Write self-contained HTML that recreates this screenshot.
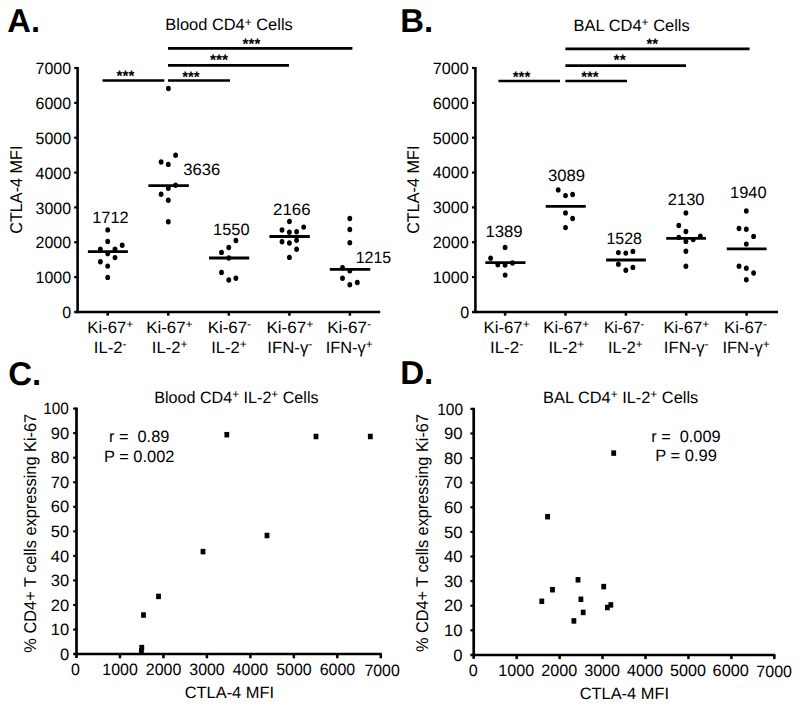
<!DOCTYPE html>
<html><head><meta charset="utf-8"><style>
html,body{margin:0;padding:0;background:#fff;}
svg{display:block;}
text{font-family:"Liberation Sans", sans-serif;fill:#000;text-rendering:geometricPrecision;}
</style></head><body>
<svg width="800" height="708" viewBox="0 0 800 708">
<rect width="800" height="708" fill="#fff"/>
<line x1="77.60" y1="67.00" x2="77.60" y2="313.20" stroke="#000" stroke-width="2.6"/>
<line x1="74.20" y1="68.00" x2="77.60" y2="68.00" stroke="#000" stroke-width="2.2"/>
<line x1="74.20" y1="102.85" x2="77.60" y2="102.85" stroke="#000" stroke-width="2.2"/>
<line x1="74.20" y1="137.70" x2="77.60" y2="137.70" stroke="#000" stroke-width="2.2"/>
<line x1="74.20" y1="172.55" x2="77.60" y2="172.55" stroke="#000" stroke-width="2.2"/>
<line x1="74.20" y1="207.40" x2="77.60" y2="207.40" stroke="#000" stroke-width="2.2"/>
<line x1="74.20" y1="242.25" x2="77.60" y2="242.25" stroke="#000" stroke-width="2.2"/>
<line x1="74.20" y1="277.10" x2="77.60" y2="277.10" stroke="#000" stroke-width="2.2"/>
<line x1="74.20" y1="312.00" x2="380.20" y2="312.00" stroke="#000" stroke-width="2.5"/>
<line x1="107.70" y1="312.00" x2="107.70" y2="315.70" stroke="#000" stroke-width="2.5"/>
<line x1="168.30" y1="312.00" x2="168.30" y2="315.70" stroke="#000" stroke-width="2.5"/>
<line x1="228.80" y1="312.00" x2="228.80" y2="315.70" stroke="#000" stroke-width="2.5"/>
<line x1="289.40" y1="312.00" x2="289.40" y2="315.70" stroke="#000" stroke-width="2.5"/>
<line x1="349.90" y1="312.00" x2="349.90" y2="315.70" stroke="#000" stroke-width="2.5"/>
<line x1="102.50" y1="80.50" x2="164.30" y2="80.50" stroke="#000" stroke-width="2.7"/>
<line x1="168.00" y1="80.50" x2="230.00" y2="80.50" stroke="#000" stroke-width="2.7"/>
<line x1="168.00" y1="65.40" x2="289.00" y2="65.40" stroke="#000" stroke-width="2.7"/>
<line x1="168.00" y1="48.40" x2="352.40" y2="48.40" stroke="#000" stroke-width="2.7"/>
<line x1="475.40" y1="67.00" x2="475.40" y2="313.20" stroke="#000" stroke-width="2.6"/>
<line x1="472.00" y1="68.00" x2="475.40" y2="68.00" stroke="#000" stroke-width="2.2"/>
<line x1="472.00" y1="102.85" x2="475.40" y2="102.85" stroke="#000" stroke-width="2.2"/>
<line x1="472.00" y1="137.70" x2="475.40" y2="137.70" stroke="#000" stroke-width="2.2"/>
<line x1="472.00" y1="172.55" x2="475.40" y2="172.55" stroke="#000" stroke-width="2.2"/>
<line x1="472.00" y1="207.40" x2="475.40" y2="207.40" stroke="#000" stroke-width="2.2"/>
<line x1="472.00" y1="242.25" x2="475.40" y2="242.25" stroke="#000" stroke-width="2.2"/>
<line x1="472.00" y1="277.10" x2="475.40" y2="277.10" stroke="#000" stroke-width="2.2"/>
<line x1="472.00" y1="312.00" x2="778.00" y2="312.00" stroke="#000" stroke-width="2.5"/>
<line x1="505.10" y1="312.00" x2="505.10" y2="315.70" stroke="#000" stroke-width="2.5"/>
<line x1="565.50" y1="312.00" x2="565.50" y2="315.70" stroke="#000" stroke-width="2.5"/>
<line x1="625.90" y1="312.00" x2="625.90" y2="315.70" stroke="#000" stroke-width="2.5"/>
<line x1="686.20" y1="312.00" x2="686.20" y2="315.70" stroke="#000" stroke-width="2.5"/>
<line x1="746.60" y1="312.00" x2="746.60" y2="315.70" stroke="#000" stroke-width="2.5"/>
<line x1="498.40" y1="81.00" x2="560.00" y2="81.00" stroke="#000" stroke-width="2.7"/>
<line x1="565.40" y1="81.00" x2="627.00" y2="81.00" stroke="#000" stroke-width="2.7"/>
<line x1="565.40" y1="65.60" x2="686.00" y2="65.60" stroke="#000" stroke-width="2.7"/>
<line x1="565.40" y1="48.80" x2="749.60" y2="48.80" stroke="#000" stroke-width="2.7"/>
<line x1="76.50" y1="407.50" x2="76.50" y2="658.00" stroke="#000" stroke-width="2.7"/>
<line x1="73.20" y1="408.60" x2="76.50" y2="408.60" stroke="#000" stroke-width="2.2"/>
<line x1="73.20" y1="433.15" x2="76.50" y2="433.15" stroke="#000" stroke-width="2.2"/>
<line x1="73.20" y1="457.70" x2="76.50" y2="457.70" stroke="#000" stroke-width="2.2"/>
<line x1="73.20" y1="482.25" x2="76.50" y2="482.25" stroke="#000" stroke-width="2.2"/>
<line x1="73.20" y1="506.80" x2="76.50" y2="506.80" stroke="#000" stroke-width="2.2"/>
<line x1="73.20" y1="531.35" x2="76.50" y2="531.35" stroke="#000" stroke-width="2.2"/>
<line x1="73.20" y1="555.90" x2="76.50" y2="555.90" stroke="#000" stroke-width="2.2"/>
<line x1="73.20" y1="580.45" x2="76.50" y2="580.45" stroke="#000" stroke-width="2.2"/>
<line x1="73.20" y1="605.00" x2="76.50" y2="605.00" stroke="#000" stroke-width="2.2"/>
<line x1="73.20" y1="629.55" x2="76.50" y2="629.55" stroke="#000" stroke-width="2.2"/>
<line x1="73.20" y1="654.10" x2="381.79" y2="654.10" stroke="#000" stroke-width="2.5"/>
<line x1="119.97" y1="654.10" x2="119.97" y2="658.30" stroke="#000" stroke-width="2.5"/>
<line x1="163.44" y1="654.10" x2="163.44" y2="658.30" stroke="#000" stroke-width="2.5"/>
<line x1="206.91" y1="654.10" x2="206.91" y2="658.30" stroke="#000" stroke-width="2.5"/>
<line x1="250.38" y1="654.10" x2="250.38" y2="658.30" stroke="#000" stroke-width="2.5"/>
<line x1="293.85" y1="654.10" x2="293.85" y2="658.30" stroke="#000" stroke-width="2.5"/>
<line x1="337.32" y1="654.10" x2="337.32" y2="658.30" stroke="#000" stroke-width="2.5"/>
<line x1="380.79" y1="654.10" x2="380.79" y2="658.30" stroke="#000" stroke-width="2.5"/>
<rect x="224.40" y="431.95" width="4.80" height="5.50" fill="#000"/>
<rect x="313.60" y="433.75" width="4.80" height="5.50" fill="#000"/>
<rect x="367.90" y="433.75" width="4.80" height="5.50" fill="#000"/>
<rect x="264.60" y="532.75" width="4.80" height="5.50" fill="#000"/>
<rect x="200.60" y="548.85" width="4.80" height="5.50" fill="#000"/>
<rect x="156.10" y="593.65" width="4.80" height="5.50" fill="#000"/>
<rect x="141.10" y="612.25" width="4.80" height="5.50" fill="#000"/>
<rect x="139.40" y="644.85" width="4.80" height="5.50" fill="#000"/>
<rect x="139.00" y="648.25" width="4.80" height="5.50" fill="#000"/>
<line x1="473.70" y1="407.80" x2="473.70" y2="658.80" stroke="#000" stroke-width="2.7"/>
<line x1="470.40" y1="408.90" x2="473.70" y2="408.90" stroke="#000" stroke-width="2.2"/>
<line x1="470.40" y1="433.50" x2="473.70" y2="433.50" stroke="#000" stroke-width="2.2"/>
<line x1="470.40" y1="458.10" x2="473.70" y2="458.10" stroke="#000" stroke-width="2.2"/>
<line x1="470.40" y1="482.70" x2="473.70" y2="482.70" stroke="#000" stroke-width="2.2"/>
<line x1="470.40" y1="507.30" x2="473.70" y2="507.30" stroke="#000" stroke-width="2.2"/>
<line x1="470.40" y1="531.90" x2="473.70" y2="531.90" stroke="#000" stroke-width="2.2"/>
<line x1="470.40" y1="556.50" x2="473.70" y2="556.50" stroke="#000" stroke-width="2.2"/>
<line x1="470.40" y1="581.10" x2="473.70" y2="581.10" stroke="#000" stroke-width="2.2"/>
<line x1="470.40" y1="605.70" x2="473.70" y2="605.70" stroke="#000" stroke-width="2.2"/>
<line x1="470.40" y1="630.30" x2="473.70" y2="630.30" stroke="#000" stroke-width="2.2"/>
<line x1="470.40" y1="654.90" x2="775.35" y2="654.90" stroke="#000" stroke-width="2.5"/>
<line x1="516.65" y1="654.90" x2="516.65" y2="659.10" stroke="#000" stroke-width="2.5"/>
<line x1="559.60" y1="654.90" x2="559.60" y2="659.10" stroke="#000" stroke-width="2.5"/>
<line x1="602.55" y1="654.90" x2="602.55" y2="659.10" stroke="#000" stroke-width="2.5"/>
<line x1="645.50" y1="654.90" x2="645.50" y2="659.10" stroke="#000" stroke-width="2.5"/>
<line x1="688.45" y1="654.90" x2="688.45" y2="659.10" stroke="#000" stroke-width="2.5"/>
<line x1="731.40" y1="654.90" x2="731.40" y2="659.10" stroke="#000" stroke-width="2.5"/>
<line x1="774.35" y1="654.90" x2="774.35" y2="659.10" stroke="#000" stroke-width="2.5"/>
<rect x="611.30" y="450.35" width="4.80" height="5.50" fill="#000"/>
<rect x="545.20" y="513.95" width="4.80" height="5.50" fill="#000"/>
<rect x="575.60" y="577.05" width="4.80" height="5.50" fill="#000"/>
<rect x="550.10" y="586.95" width="4.80" height="5.50" fill="#000"/>
<rect x="601.30" y="583.85" width="4.80" height="5.50" fill="#000"/>
<rect x="539.40" y="598.55" width="4.80" height="5.50" fill="#000"/>
<rect x="578.50" y="596.55" width="4.80" height="5.50" fill="#000"/>
<rect x="608.40" y="602.15" width="4.80" height="5.50" fill="#000"/>
<rect x="605.00" y="604.75" width="4.80" height="5.50" fill="#000"/>
<rect x="580.80" y="609.65" width="4.80" height="5.50" fill="#000"/>
<rect x="571.50" y="618.15" width="4.80" height="5.50" fill="#000"/>
<ellipse cx="107.70" cy="229.90" rx="2.4" ry="2.7" fill="#000"/>
<ellipse cx="107.70" cy="241.40" rx="2.4" ry="2.7" fill="#000"/>
<ellipse cx="122.20" cy="245.30" rx="2.4" ry="2.7" fill="#000"/>
<ellipse cx="100.40" cy="249.30" rx="2.4" ry="2.7" fill="#000"/>
<ellipse cx="115.00" cy="249.30" rx="2.4" ry="2.7" fill="#000"/>
<ellipse cx="107.70" cy="253.70" rx="2.4" ry="2.7" fill="#000"/>
<ellipse cx="115.00" cy="257.60" rx="2.4" ry="2.7" fill="#000"/>
<ellipse cx="100.40" cy="261.80" rx="2.4" ry="2.7" fill="#000"/>
<ellipse cx="107.70" cy="266.10" rx="2.4" ry="2.7" fill="#000"/>
<ellipse cx="107.70" cy="277.40" rx="2.4" ry="2.7" fill="#000"/>
<ellipse cx="168.40" cy="88.50" rx="2.4" ry="2.7" fill="#000"/>
<ellipse cx="175.60" cy="155.30" rx="2.4" ry="2.7" fill="#000"/>
<ellipse cx="161.10" cy="162.00" rx="2.4" ry="2.7" fill="#000"/>
<ellipse cx="168.30" cy="164.40" rx="2.4" ry="2.7" fill="#000"/>
<ellipse cx="175.60" cy="185.30" rx="2.4" ry="2.7" fill="#000"/>
<ellipse cx="168.30" cy="188.20" rx="2.4" ry="2.7" fill="#000"/>
<ellipse cx="161.10" cy="194.20" rx="2.4" ry="2.7" fill="#000"/>
<ellipse cx="168.30" cy="200.20" rx="2.4" ry="2.7" fill="#000"/>
<ellipse cx="168.30" cy="221.80" rx="2.4" ry="2.7" fill="#000"/>
<ellipse cx="235.90" cy="240.50" rx="2.4" ry="2.7" fill="#000"/>
<ellipse cx="228.80" cy="247.50" rx="2.4" ry="2.7" fill="#000"/>
<ellipse cx="221.50" cy="252.40" rx="2.4" ry="2.7" fill="#000"/>
<ellipse cx="228.80" cy="258.00" rx="2.4" ry="2.7" fill="#000"/>
<ellipse cx="221.50" cy="272.40" rx="2.4" ry="2.7" fill="#000"/>
<ellipse cx="228.80" cy="280.00" rx="2.4" ry="2.7" fill="#000"/>
<ellipse cx="235.90" cy="278.30" rx="2.4" ry="2.7" fill="#000"/>
<ellipse cx="289.40" cy="221.50" rx="2.4" ry="2.7" fill="#000"/>
<ellipse cx="303.70" cy="227.10" rx="2.4" ry="2.7" fill="#000"/>
<ellipse cx="282.00" cy="230.00" rx="2.4" ry="2.7" fill="#000"/>
<ellipse cx="289.40" cy="232.20" rx="2.4" ry="2.7" fill="#000"/>
<ellipse cx="296.60" cy="231.70" rx="2.4" ry="2.7" fill="#000"/>
<ellipse cx="282.00" cy="241.80" rx="2.4" ry="2.7" fill="#000"/>
<ellipse cx="289.40" cy="243.00" rx="2.4" ry="2.7" fill="#000"/>
<ellipse cx="296.60" cy="240.30" rx="2.4" ry="2.7" fill="#000"/>
<ellipse cx="296.60" cy="249.30" rx="2.4" ry="2.7" fill="#000"/>
<ellipse cx="289.40" cy="257.40" rx="2.4" ry="2.7" fill="#000"/>
<ellipse cx="349.80" cy="218.50" rx="2.4" ry="2.7" fill="#000"/>
<ellipse cx="349.80" cy="229.50" rx="2.4" ry="2.7" fill="#000"/>
<ellipse cx="349.80" cy="242.70" rx="2.4" ry="2.7" fill="#000"/>
<ellipse cx="342.50" cy="267.80" rx="2.4" ry="2.7" fill="#000"/>
<ellipse cx="349.80" cy="270.70" rx="2.4" ry="2.7" fill="#000"/>
<ellipse cx="342.50" cy="278.30" rx="2.4" ry="2.7" fill="#000"/>
<ellipse cx="349.80" cy="284.70" rx="2.4" ry="2.7" fill="#000"/>
<ellipse cx="357.30" cy="282.50" rx="2.4" ry="2.7" fill="#000"/>
<ellipse cx="505.10" cy="247.40" rx="2.4" ry="2.7" fill="#000"/>
<ellipse cx="490.60" cy="258.20" rx="2.4" ry="2.7" fill="#000"/>
<ellipse cx="497.80" cy="264.70" rx="2.4" ry="2.7" fill="#000"/>
<ellipse cx="505.10" cy="265.10" rx="2.4" ry="2.7" fill="#000"/>
<ellipse cx="512.50" cy="263.00" rx="2.4" ry="2.7" fill="#000"/>
<ellipse cx="505.10" cy="275.10" rx="2.4" ry="2.7" fill="#000"/>
<ellipse cx="558.20" cy="189.90" rx="2.4" ry="2.7" fill="#000"/>
<ellipse cx="565.50" cy="195.60" rx="2.4" ry="2.7" fill="#000"/>
<ellipse cx="572.60" cy="194.50" rx="2.4" ry="2.7" fill="#000"/>
<ellipse cx="565.50" cy="212.90" rx="2.4" ry="2.7" fill="#000"/>
<ellipse cx="572.60" cy="218.50" rx="2.4" ry="2.7" fill="#000"/>
<ellipse cx="565.50" cy="227.60" rx="2.4" ry="2.7" fill="#000"/>
<ellipse cx="618.40" cy="252.60" rx="2.4" ry="2.7" fill="#000"/>
<ellipse cx="625.80" cy="253.10" rx="2.4" ry="2.7" fill="#000"/>
<ellipse cx="632.90" cy="251.40" rx="2.4" ry="2.7" fill="#000"/>
<ellipse cx="618.40" cy="264.30" rx="2.4" ry="2.7" fill="#000"/>
<ellipse cx="625.80" cy="270.20" rx="2.4" ry="2.7" fill="#000"/>
<ellipse cx="632.90" cy="267.40" rx="2.4" ry="2.7" fill="#000"/>
<ellipse cx="685.90" cy="212.90" rx="2.4" ry="2.7" fill="#000"/>
<ellipse cx="678.80" cy="225.50" rx="2.4" ry="2.7" fill="#000"/>
<ellipse cx="685.90" cy="231.50" rx="2.4" ry="2.7" fill="#000"/>
<ellipse cx="678.80" cy="237.40" rx="2.4" ry="2.7" fill="#000"/>
<ellipse cx="685.90" cy="241.40" rx="2.4" ry="2.7" fill="#000"/>
<ellipse cx="693.20" cy="239.60" rx="2.4" ry="2.7" fill="#000"/>
<ellipse cx="700.40" cy="236.10" rx="2.4" ry="2.7" fill="#000"/>
<ellipse cx="685.90" cy="251.20" rx="2.4" ry="2.7" fill="#000"/>
<ellipse cx="685.90" cy="266.30" rx="2.4" ry="2.7" fill="#000"/>
<ellipse cx="746.30" cy="211.00" rx="2.4" ry="2.7" fill="#000"/>
<ellipse cx="739.00" cy="228.50" rx="2.4" ry="2.7" fill="#000"/>
<ellipse cx="746.30" cy="229.30" rx="2.4" ry="2.7" fill="#000"/>
<ellipse cx="753.60" cy="236.40" rx="2.4" ry="2.7" fill="#000"/>
<ellipse cx="746.30" cy="244.10" rx="2.4" ry="2.7" fill="#000"/>
<ellipse cx="739.00" cy="266.30" rx="2.4" ry="2.7" fill="#000"/>
<ellipse cx="746.30" cy="268.30" rx="2.4" ry="2.7" fill="#000"/>
<ellipse cx="753.60" cy="273.00" rx="2.4" ry="2.7" fill="#000"/>
<ellipse cx="746.30" cy="279.80" rx="2.4" ry="2.7" fill="#000"/>
<line x1="87.90" y1="251.70" x2="127.90" y2="251.70" stroke="#000" stroke-width="2.8"/>
<line x1="148.40" y1="185.60" x2="188.80" y2="185.60" stroke="#000" stroke-width="2.8"/>
<line x1="209.00" y1="258.00" x2="249.20" y2="258.00" stroke="#000" stroke-width="2.8"/>
<line x1="269.40" y1="236.50" x2="309.80" y2="236.50" stroke="#000" stroke-width="2.8"/>
<line x1="329.80" y1="269.30" x2="370.30" y2="269.30" stroke="#000" stroke-width="2.8"/>
<line x1="485.30" y1="262.60" x2="525.50" y2="262.60" stroke="#000" stroke-width="2.8"/>
<line x1="545.70" y1="206.30" x2="585.80" y2="206.30" stroke="#000" stroke-width="2.8"/>
<line x1="606.10" y1="260.00" x2="645.90" y2="260.00" stroke="#000" stroke-width="2.8"/>
<line x1="666.20" y1="238.40" x2="706.00" y2="238.40" stroke="#000" stroke-width="2.8"/>
<line x1="726.80" y1="248.80" x2="766.60" y2="248.80" stroke="#000" stroke-width="2.8"/>
<text id="Ayt7000" transform="translate(71.01,74.19) scale(1.0497,1.0800)" font-size="15.20" text-anchor="end">7000</text>
<text id="Ayt6000" transform="translate(71.01,109.04) scale(1.0497,1.0800)" font-size="15.20" text-anchor="end">6000</text>
<text id="Ayt5000" transform="translate(71.01,143.89) scale(1.0497,1.0800)" font-size="15.20" text-anchor="end">5000</text>
<text id="Ayt4000" transform="translate(71.01,178.74) scale(1.0497,1.0800)" font-size="15.20" text-anchor="end">4000</text>
<text id="Ayt3000" transform="translate(71.01,213.59) scale(1.0497,1.0800)" font-size="15.20" text-anchor="end">3000</text>
<text id="Ayt2000" transform="translate(71.01,248.44) scale(1.0497,1.0800)" font-size="15.20" text-anchor="end">2000</text>
<text id="Ayt1000" transform="translate(71.01,283.29) scale(1.0497,1.0800)" font-size="15.20" text-anchor="end">1000</text>
<text id="Ayt0" transform="translate(71.13,317.79) scale(1.0568,1.0800)" font-size="15.20" text-anchor="end">0</text>
<text id="Aylab" transform="translate(21.53,189.64) rotate(-90) scale(1.0679,1.1200)" font-size="15.20" text-anchor="middle">CTLA-4 MFI</text>
<text id="Axl0a" transform="translate(110.29,333.00) scale(1.0984,1.0800)" font-size="15.20" text-anchor="middle">Ki-67<tspan font-size="11" dy="-4.5">+</tspan></text>
<text id="Axl0b" transform="translate(110.19,352.50) scale(1.0942,1.0800)" font-size="15.20" text-anchor="middle">IL-2<tspan font-size="11" dy="-4.5">-</tspan></text>
<text id="Axl1a" transform="translate(169.49,333.00) scale(1.1078,1.0800)" font-size="15.20" text-anchor="middle">Ki-67<tspan font-size="11" dy="-4.5">+</tspan></text>
<text id="Axl1b" transform="translate(169.64,352.50) scale(1.0921,1.0800)" font-size="15.20" text-anchor="middle">IL-2<tspan font-size="11" dy="-4.5">+</tspan></text>
<text id="Axl2a" transform="translate(229.42,333.00) scale(1.1141,1.0800)" font-size="15.20" text-anchor="middle">Ki-67<tspan font-size="11" dy="-4.5">-</tspan></text>
<text id="Axl2b" transform="translate(228.97,352.50) scale(1.0901,1.0800)" font-size="15.20" text-anchor="middle">IL-2<tspan font-size="11" dy="-4.5">+</tspan></text>
<text id="Axl3a" transform="translate(289.98,333.00) scale(1.1253,1.0800)" font-size="15.20" text-anchor="middle">Ki-67<tspan font-size="11" dy="-4.5">+</tspan></text>
<text id="Axl3b" transform="translate(289.83,352.50) scale(1.1031,1.0800)" font-size="15.20" text-anchor="middle">IFN-γ<tspan font-size="11" dy="-4.5">-</tspan></text>
<text id="Axl4a" transform="translate(349.13,333.00) scale(1.1185,1.0800)" font-size="15.20" text-anchor="middle">Ki-67<tspan font-size="11" dy="-4.5">-</tspan></text>
<text id="Axl4b" transform="translate(349.18,352.50) scale(1.0754,1.0800)" font-size="15.20" text-anchor="middle">IFN-γ<tspan font-size="11" dy="-4.5">+</tspan></text>
<text id="Av0" transform="translate(92.19,223.39) scale(1.0773,1.0800)" font-size="15.20">1712</text>
<text id="Av1" transform="translate(183.22,174.64) scale(1.0955,1.0800)" font-size="15.20">3636</text>
<text id="Av2" transform="translate(213.09,234.91) scale(1.0792,1.0800)" font-size="15.20">1550</text>
<text id="Av3" transform="translate(273.08,215.42) scale(1.1069,1.0800)" font-size="15.20">2166</text>
<text id="Av4" transform="translate(355.67,263.23) scale(1.0528,1.0800)" font-size="15.20">1215</text>
<text id="Ast0" transform="translate(125.41,81.38) scale(1.0032,1.0000)" font-size="15.20" text-anchor="middle" font-weight="bold">***</text>
<text id="Ast1" transform="translate(190.90,81.78) scale(0.9852,1.0000)" font-size="15.20" text-anchor="middle" font-weight="bold">***</text>
<text id="Ast2" transform="translate(219.02,64.87) scale(1.0264,1.0000)" font-size="15.20" text-anchor="middle" font-weight="bold">***</text>
<text id="Ast3" transform="translate(251.44,49.07) scale(0.9962,1.0000)" font-size="15.20" text-anchor="middle" font-weight="bold">***</text>
<text id="Byt7000" transform="translate(468.62,73.82) scale(1.0631,1.0800)" font-size="15.20" text-anchor="end">7000</text>
<text id="Byt6000" transform="translate(468.62,108.67) scale(1.0631,1.0800)" font-size="15.20" text-anchor="end">6000</text>
<text id="Byt5000" transform="translate(468.62,143.52) scale(1.0631,1.0800)" font-size="15.20" text-anchor="end">5000</text>
<text id="Byt4000" transform="translate(468.62,178.37) scale(1.0631,1.0800)" font-size="15.20" text-anchor="end">4000</text>
<text id="Byt3000" transform="translate(468.62,213.22) scale(1.0631,1.0800)" font-size="15.20" text-anchor="end">3000</text>
<text id="Byt2000" transform="translate(468.62,248.07) scale(1.0631,1.0800)" font-size="15.20" text-anchor="end">2000</text>
<text id="Byt1000" transform="translate(468.62,282.92) scale(1.0631,1.0800)" font-size="15.20" text-anchor="end">1000</text>
<text id="Byt0" transform="translate(469.10,317.55) scale(1.0600,1.0800)" font-size="15.20" text-anchor="end">0</text>
<text id="Bylab" transform="translate(418.81,189.69) rotate(-90) scale(1.0687,1.1200)" font-size="15.20" text-anchor="middle">CTLA-4 MFI</text>
<text id="Bxl0a" transform="translate(506.66,333.00) scale(1.1015,1.0800)" font-size="15.20" text-anchor="middle">Ki-67<tspan font-size="11" dy="-4.5">+</tspan></text>
<text id="Bxl0b" transform="translate(506.62,352.50) scale(1.1144,1.0800)" font-size="15.20" text-anchor="middle">IL-2<tspan font-size="11" dy="-4.5">-</tspan></text>
<text id="Bxl1a" transform="translate(566.36,333.00) scale(1.0987,1.0800)" font-size="15.20" text-anchor="middle">Ki-67<tspan font-size="11" dy="-4.5">+</tspan></text>
<text id="Bxl1b" transform="translate(566.34,352.50) scale(1.1014,1.0800)" font-size="15.20" text-anchor="middle">IL-2<tspan font-size="11" dy="-4.5">+</tspan></text>
<text id="Bxl2a" transform="translate(624.10,333.00) scale(1.0338,1.0800)" font-size="15.20" text-anchor="middle">Ki-67<tspan font-size="11" dy="-4.5">-</tspan></text>
<text id="Bxl2b" transform="translate(625.23,352.50) scale(1.0592,1.0800)" font-size="15.20" text-anchor="middle">IL-2<tspan font-size="11" dy="-4.5">+</tspan></text>
<text id="Bxl3a" transform="translate(686.41,333.00) scale(1.0951,1.0800)" font-size="15.20" text-anchor="middle">Ki-67<tspan font-size="11" dy="-4.5">+</tspan></text>
<text id="Bxl3b" transform="translate(686.24,352.50) scale(1.0973,1.0800)" font-size="15.20" text-anchor="middle">IFN-γ<tspan font-size="11" dy="-4.5">-</tspan></text>
<text id="Bxl4a" transform="translate(745.54,333.00) scale(1.0983,1.0800)" font-size="15.20" text-anchor="middle">Ki-67<tspan font-size="11" dy="-4.5">-</tspan></text>
<text id="Bxl4b" transform="translate(746.14,352.50) scale(1.0893,1.0800)" font-size="15.20" text-anchor="middle">IFN-γ<tspan font-size="11" dy="-4.5">+</tspan></text>
<text id="Bv0" transform="translate(485.38,237.15) scale(1.1026,1.0800)" font-size="15.20">1389</text>
<text id="Bv1" transform="translate(547.96,180.91) scale(1.1002,1.0800)" font-size="15.20">3089</text>
<text id="Bv2" transform="translate(606.38,243.85) scale(1.0506,1.0800)" font-size="15.20">1528</text>
<text id="Bv3" transform="translate(667.79,205.12) scale(1.0857,1.0800)" font-size="15.20">2130</text>
<text id="Bv4" transform="translate(730.09,197.81) scale(1.0792,1.0800)" font-size="15.20">1940</text>
<text id="Bst0" transform="translate(521.46,81.93) scale(0.9940,1.0000)" font-size="15.20" text-anchor="middle" font-weight="bold">***</text>
<text id="Bst1" transform="translate(589.82,81.90) scale(0.9783,1.0000)" font-size="15.20" text-anchor="middle" font-weight="bold">***</text>
<text id="Bst2" transform="translate(619.64,64.54) scale(1.0211,1.0000)" font-size="15.20" text-anchor="middle" font-weight="bold">**</text>
<text id="Bst3" transform="translate(652.29,49.28) scale(0.9934,1.0000)" font-size="15.20" text-anchor="middle" font-weight="bold">**</text>
<text id="Atitle" transform="translate(229.04,30.49) scale(1.0811,1.0800)" font-size="15.20" text-anchor="middle">Blood CD4<tspan font-size="11" dy="-4.5">+</tspan><tspan dy="4.5"> </tspan>Cells</text>
<text id="Btitle" transform="translate(631.66,30.90) scale(1.0843,1.0800)" font-size="15.20" text-anchor="middle">BAL CD4<tspan font-size="11" dy="-4.5">+</tspan><tspan dy="4.5"> </tspan>Cells</text>
<text id="Alet" transform="translate(7.33,31.79) scale(0.9901,1.0000)" font-size="33.00" font-weight="bold">A.</text>
<text id="Blet" transform="translate(400.28,31.79) scale(0.9985,1.0000)" font-size="33.00" font-weight="bold">B.</text>
<text id="Cyt100" transform="translate(68.86,414.12) scale(1.0143,1.0800)" font-size="15.20" text-anchor="end">100</text>
<text id="Cyt90" transform="translate(69.10,438.75) scale(1.0867,1.0800)" font-size="15.20" text-anchor="end">90</text>
<text id="Cyt80" transform="translate(69.10,463.30) scale(1.0867,1.0800)" font-size="15.20" text-anchor="end">80</text>
<text id="Cyt70" transform="translate(69.10,487.85) scale(1.0867,1.0800)" font-size="15.20" text-anchor="end">70</text>
<text id="Cyt60" transform="translate(69.10,512.40) scale(1.0867,1.0800)" font-size="15.20" text-anchor="end">60</text>
<text id="Cyt50" transform="translate(69.10,536.95) scale(1.0867,1.0800)" font-size="15.20" text-anchor="end">50</text>
<text id="Cyt40" transform="translate(69.10,561.50) scale(1.0867,1.0800)" font-size="15.20" text-anchor="end">40</text>
<text id="Cyt30" transform="translate(69.10,586.05) scale(1.0867,1.0800)" font-size="15.20" text-anchor="end">30</text>
<text id="Cyt20" transform="translate(69.10,610.60) scale(1.0867,1.0800)" font-size="15.20" text-anchor="end">20</text>
<text id="Cyt10" transform="translate(69.10,635.15) scale(1.0867,1.0800)" font-size="15.20" text-anchor="end">10</text>
<text id="Cyt0" transform="translate(69.10,659.70) scale(1.0867,1.0800)" font-size="15.20" text-anchor="end">0</text>
<text id="Cxt0" transform="translate(75.40,675.23) scale(1.0539,1.0800)" font-size="15.20" text-anchor="middle">0</text>
<text id="Cxt1" transform="translate(120.06,675.38) scale(1.0502,1.0800)" font-size="15.20" text-anchor="middle">1000</text>
<text id="Cxt2" transform="translate(163.53,675.38) scale(1.0502,1.0800)" font-size="15.20" text-anchor="middle">2000</text>
<text id="Cxt3" transform="translate(207.00,675.38) scale(1.0502,1.0800)" font-size="15.20" text-anchor="middle">3000</text>
<text id="Cxt4" transform="translate(250.47,675.38) scale(1.0502,1.0800)" font-size="15.20" text-anchor="middle">4000</text>
<text id="Cxt5" transform="translate(293.94,675.38) scale(1.0502,1.0800)" font-size="15.20" text-anchor="middle">5000</text>
<text id="Cxt6" transform="translate(337.41,675.38) scale(1.0502,1.0800)" font-size="15.20" text-anchor="middle">6000</text>
<text id="Cxt7" transform="translate(382.08,675.52) scale(1.0465,1.0800)" font-size="15.20" text-anchor="middle">7000</text>
<text id="Cxlab" transform="translate(229.37,698.18) scale(1.0801,1.0800)" font-size="15.20" text-anchor="middle">CTLA-4 MFI</text>
<text id="Cylab" transform="translate(36.22,533.22) rotate(-90) scale(1.0765,1.1200)" font-size="15.20" text-anchor="middle">% CD4+ T cells expressing Ki-67</text>
<text id="Ctitle" transform="translate(236.39,402.76) scale(1.0621,1.0800)" font-size="15.20" text-anchor="middle">Blood CD4<tspan font-size="11" dy="-4.5">+</tspan><tspan dy="4.5"> </tspan>IL-2<tspan font-size="11" dy="-4.5">+</tspan><tspan dy="4.5"> </tspan>Cells</text>
<text id="Cr" transform="translate(108.93,442.43) scale(1.0753,1.0800)" font-size="15.20" xml:space="preserve">r =  0.89</text>
<text id="Cp" transform="translate(104.01,461.71) scale(1.0805,1.0800)" font-size="15.20" xml:space="preserve">P = 0.002</text>
<text id="Dyt100" transform="translate(463.11,415.21) scale(1.0204,1.0800)" font-size="15.20" text-anchor="end">100</text>
<text id="Dyt90" transform="translate(462.62,439.10) scale(1.0997,1.0800)" font-size="15.20" text-anchor="end">90</text>
<text id="Dyt80" transform="translate(462.62,463.70) scale(1.0997,1.0800)" font-size="15.20" text-anchor="end">80</text>
<text id="Dyt70" transform="translate(462.62,488.30) scale(1.0997,1.0800)" font-size="15.20" text-anchor="end">70</text>
<text id="Dyt60" transform="translate(462.62,512.90) scale(1.0997,1.0800)" font-size="15.20" text-anchor="end">60</text>
<text id="Dyt50" transform="translate(462.62,537.50) scale(1.0997,1.0800)" font-size="15.20" text-anchor="end">50</text>
<text id="Dyt40" transform="translate(462.62,562.10) scale(1.0997,1.0800)" font-size="15.20" text-anchor="end">40</text>
<text id="Dyt30" transform="translate(462.62,586.70) scale(1.0997,1.0800)" font-size="15.20" text-anchor="end">30</text>
<text id="Dyt20" transform="translate(462.62,611.30) scale(1.0997,1.0800)" font-size="15.20" text-anchor="end">20</text>
<text id="Dyt10" transform="translate(462.62,635.90) scale(1.0997,1.0800)" font-size="15.20" text-anchor="end">10</text>
<text id="Dyt0" transform="translate(462.62,660.50) scale(1.0997,1.0800)" font-size="15.20" text-anchor="end">0</text>
<text id="Dxt0" transform="translate(473.26,676.08) scale(1.0635,1.0800)" font-size="15.20" text-anchor="middle">0</text>
<text id="Dxt1" transform="translate(516.21,676.08) scale(1.0635,1.0800)" font-size="15.20" text-anchor="middle">1000</text>
<text id="Dxt2" transform="translate(559.16,676.08) scale(1.0635,1.0800)" font-size="15.20" text-anchor="middle">2000</text>
<text id="Dxt3" transform="translate(602.11,676.08) scale(1.0635,1.0800)" font-size="15.20" text-anchor="middle">3000</text>
<text id="Dxt4" transform="translate(645.06,676.08) scale(1.0635,1.0800)" font-size="15.20" text-anchor="middle">4000</text>
<text id="Dxt5" transform="translate(688.01,676.08) scale(1.0635,1.0800)" font-size="15.20" text-anchor="middle">5000</text>
<text id="Dxt6" transform="translate(730.70,675.60) scale(1.0727,1.0800)" font-size="15.20" text-anchor="middle">6000</text>
<text id="Dxt7" transform="translate(774.17,676.57) scale(1.0542,1.0800)" font-size="15.20" text-anchor="middle">7000</text>
<text id="Dxlab" transform="translate(624.34,698.65) scale(1.0805,1.0800)" font-size="15.20" text-anchor="middle">CTLA-4 MFI</text>
<text id="Dylab" transform="translate(427.72,533.05) rotate(-90) scale(1.0729,1.1200)" font-size="15.20" text-anchor="middle">% CD4+ T cells expressing Ki-67</text>
<text id="Dtitle" transform="translate(620.65,402.86) scale(1.0768,1.0800)" font-size="15.20" text-anchor="middle">BAL CD4<tspan font-size="11" dy="-4.5">+</tspan><tspan dy="4.5"> </tspan>IL-2<tspan font-size="11" dy="-4.5">+</tspan><tspan dy="4.5"> </tspan>Cells</text>
<text id="Dr" transform="translate(651.16,442.47) scale(1.0749,1.0800)" font-size="15.20" xml:space="preserve">r =  0.009</text>
<text id="Dp" transform="translate(655.18,461.07) scale(1.0868,1.0800)" font-size="15.20" xml:space="preserve">P = 0.99</text>
<text id="Clet" transform="translate(8.16,385.05) scale(0.9998,1.0000)" font-size="33.00" font-weight="bold">C.</text>
<text id="Dlet" transform="translate(400.15,384.39) scale(1.0030,1.0000)" font-size="33.00" font-weight="bold">D.</text>
</svg></body></html>
